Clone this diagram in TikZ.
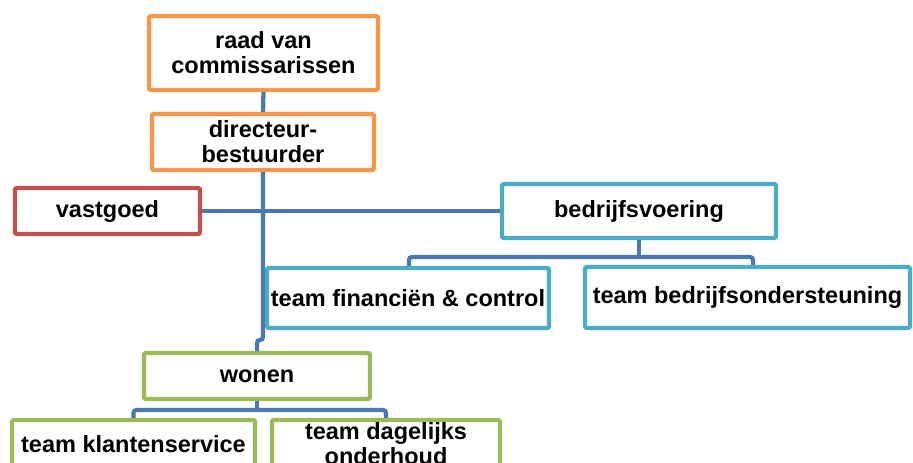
\documentclass[tikz,border=0pt]{standalone}
\usepackage{fontspec}
\setmainfont{Liberation Sans}
\usepackage{tikz}

\definecolor{oranje}{HTML}{F79646}
\definecolor{rood}{HTML}{C0504D}
\definecolor{blauwgroen}{HTML}{4BACC6}
\definecolor{groen}{HTML}{9BBB59}
\definecolor{lijn}{HTML}{4A78B2}

\begin{document}
\begin{tikzpicture}[x=1pt,y=-1pt,
    box/.style={draw, line width=4.3pt, rounded corners=2pt, fill=white, inner sep=0pt,
      align=center, font=\fontsize{23.5}{25}\selectfont\bfseries},
    conn/.style={draw=lijn, line width=4.3pt, rounded corners=3pt}]
    \useasboundingbox (0,0) rectangle (913,463);
    \clip (0,0) rectangle (913,463);
    % bovenste lagen
    \node [box, draw=oranje, minimum width=229, minimum height=74] (rvc) at (263.5,53) {raad van\\commissarissen};
    \node [box, draw=oranje, minimum width=222, minimum height=56] (dir) at (263,142) {directeur-\\bestuurder};
    \node [box, draw=rood, minimum width=185, minimum height=46] (vg) at (107.5,211) {vastgoed};
    \node [box, draw=blauwgroen, minimum width=274, minimum height=54] (bv) at (639,211) {bedrijfsvoering};
    \node [box, draw=blauwgroen, minimum width=282, minimum height=60] (fin) at (408,298) {team financiën \& control};
    \node [box, draw=blauwgroen, minimum width=325, minimum height=61] (bos) at (747.5,297.5) {team bedrijfsondersteuning};
    \node [box, draw=groen, minimum width=226, minimum height=46] (won) at (257,376) {wonen};
    \node [box, draw=groen, minimum width=243, minimum height=48] (kls) at (133.5,444) {team klantenservice};
    \node [box, draw=groen, minimum width=228, minimum height=48] (dag) at (386,444) {team dagelijks\\onderhoud};
    % hulppunten
    \coordinate (jog) at (263,340);
    \coordinate (bvbar) at (639,257);
    \coordinate (wobar) at (257,410);
    % verbindingen
    \path [conn] (rvc.south) -- (dir.north);
    \path [conn] (dir.south) -- (jog) -| (won.north);
    \path [conn] (vg.east) -- (bv.west);
    \path [conn] (bv.south) -- (bvbar);
    \path [conn] ([xshift=1pt]fin.north) |- (bvbar) -| ([xshift=5.5pt]bos.north);
    \path [conn] (won.south) -- (wobar);
    \path [conn] (kls.north) |- (wobar) -| (dag.north);
\end{tikzpicture}
\end{document}
